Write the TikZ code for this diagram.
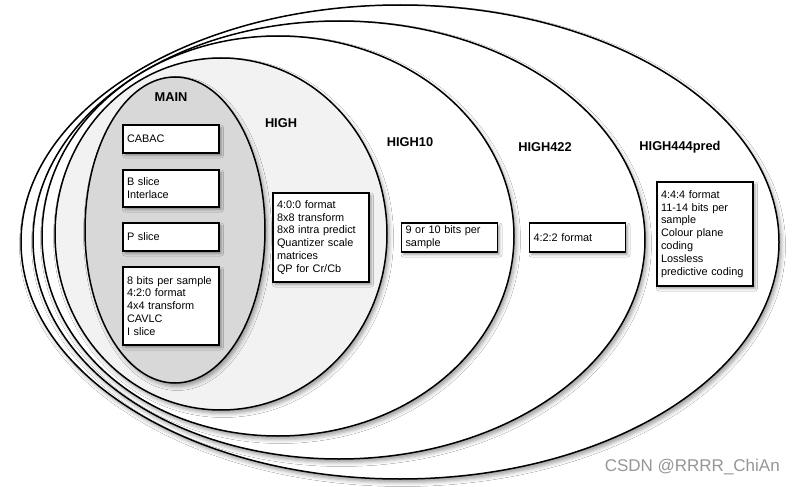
\documentclass[tikz,border=0pt]{standalone}
\usepackage{fontspec}
\setmainfont{Liberation Sans}
\usetikzlibrary{shapes.geometric,shadows.blur}
\definecolor{highfill}{RGB}{242,242,242}
\definecolor{mainfill}{RGB}{216,216,216}
\definecolor{wmgray}{RGB}{150,150,150}
\newcommand\myfeatfont{\fontsize{10.9}{12.9}\selectfont\hyphenpenalty=10000\relax\exhyphenpenalty=10000\relax}
\tikzset{
  ring/.style={draw=black, line width=1.5pt, ellipse, inner sep=0pt, fill=white,
    blur shadow={shadow xshift=2.5pt, shadow yshift=-3.5pt, shadow blur radius=4pt, shadow opacity=38}},
  feat/.style={draw=black, line width=1.3pt, fill=white, rectangle, text width=88pt,
    align=left, inner xsep=4pt, inner ysep=0pt, minimum width=96pt,
    font=\myfeatfont,
    blur shadow={shadow xshift=2pt, shadow yshift=-2.5pt, shadow blur radius=2.5pt, shadow opacity=40}},
  ptitle/.style={font=\bfseries\fontsize{12.8}{14}\selectfont, inner sep=0pt}
}
\begin{document}
\begin{tikzpicture}[x=1pt,y=-1pt]
\fill[white] (0,0) rectangle (796,487);
\useasboundingbox (0,0) rectangle (796,487);
% ellipses, outer to inner
\node[ring, minimum width=758pt, minimum height=474pt] (p444) at (400,242) {};
\node[ring, minimum width=612pt, minimum height=438pt] (p422) at (339,240) {};
\node[ring, minimum width=472pt, minimum height=400pt] (p10) at (278,236) {};
\node[ring, fill=highfill, minimum width=332pt, minimum height=352pt] (phigh) at (221,234) {};
\node[ring, fill=mainfill, minimum width=180pt, minimum height=306pt] (pmain) at (175,230) {};
% titles
\node[ptitle] (tmain) at (171,97) {MAIN};
\node[ptitle] (thigh) at (281,123) {HIGH};
\node[ptitle] (t10) at (410,142) {HIGH10};
\node[ptitle] (t422) at (545,147) {HIGH422};
\node[ptitle] (t444) at (680,147) {HIGH444pred};
% feature boxes
\node[feat, minimum height=28pt] (bcabac) at (171,139) {CABAC};
\node[feat, minimum height=37pt] (bbslice) at (171,188.5) {B slice\\Interlace};
\node[feat, minimum height=28pt] (bpslice) at (171,237) {P slice};
\node[feat, minimum height=78pt] (bbase) at (171,306) {8 bits per sample\\4:2:0 format\\4x4 transform\\CAVLC\\I slice};
\node[feat, minimum height=89pt] (bhigh) at (321,237.5) {4:0:0 format\\8x8 transform\\8x8 intra predict\\Quantizer scale\\matrices\\QP for Cr/Cb};
\node[feat, minimum height=29pt] (b10) at (449.5,237.5) {9 or 10 bits per\\sample};
\node[feat, minimum height=29pt] (b422) at (577.5,237.5) {4:2:2 format};
\node[feat, minimum height=104pt] (b444) at (705,234) {4:4:4 format\\11-14 bits per\\sample\\Colour plane\\coding\\Lossless\\predictive coding};
% watermark
\node[font=\fontsize{17}{19}\selectfont, text=wmgray, anchor=east, inner sep=0pt] (wm) at (780,467) {CSDN @RRRR\_ChiAn};
\end{tikzpicture}
\end{document}
